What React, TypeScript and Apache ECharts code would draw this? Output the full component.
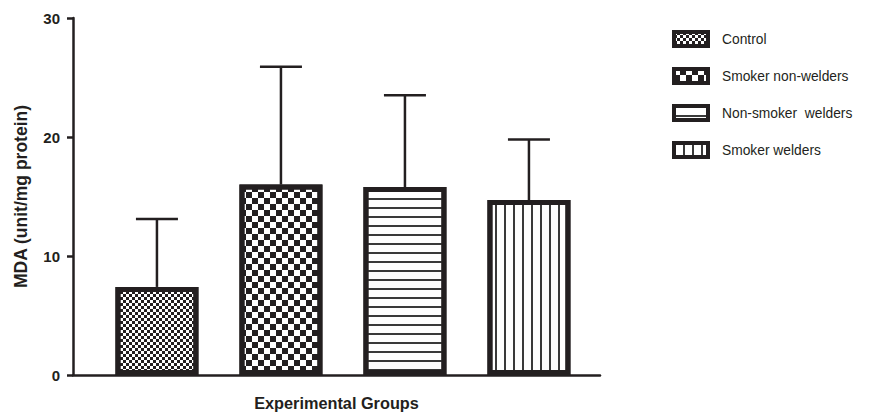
import React, { useEffect, useRef } from "react";
import * as echarts from "echarts";

const groups = ["Control", "Smoker non-welders", "Non-smoker  welders", "Smoker welders"];
const means = [7.4, 16.0, 15.8, 14.7];
const sds = [5.7, 9.9, 7.7, 5.1];
const yTicks = [0, 10, 20, 30];

const INK = "#231f20";
const FONT = "'Liberation Sans', Arial, Helvetica, sans-serif";

const decals: any[] = [
  {
    symbol: "rect",
    symbolSize: 1,
    symbolKeepAspect: false,
    color: INK,
    backgroundColor: "#ffffff",
    dashArrayX: [[3, 3], [0, 3, 3, 0]],
    dashArrayY: [3, 0],
    rotation: 0,
  },
  {
    symbol: "rect",
    symbolSize: 1,
    symbolKeepAspect: false,
    color: INK,
    backgroundColor: "#ffffff",
    dashArrayX: [[6, 6], [0, 6, 6, 0]],
    dashArrayY: [6, 0],
    rotation: 0,
  },
  {
    symbol: "rect",
    symbolSize: 1,
    symbolKeepAspect: false,
    color: "#3a3a3a",
    backgroundColor: "#ffffff",
    dashArrayX: [20, 0],
    dashArrayY: [1.5, 6.5],
    rotation: 0,
  },
  {
    symbol: "rect",
    symbolSize: 1,
    symbolKeepAspect: false,
    color: "#3a3a3a",
    backgroundColor: "#ffffff",
    dashArrayX: [1.5, 6.5],
    dashArrayY: [20, 0],
    rotation: 0,
  },
];

export default function App() {
  const ref = useRef<HTMLDivElement>(null);

  useEffect(() => {
    if (!ref.current) return;
    const chart = echarts.init(ref.current, undefined, { renderer: "svg" });

    const barSeries = groups.map((g, i) => ({
      name: g,
      type: "bar",
      barWidth: 83,
      barGap: "-100%",
      data: [[i, means[i]]],
      itemStyle: {
        color: "#ffffff",
        borderColor: INK,
        borderWidth: 5,
        decal: decals[i],
      },
      z: 3,
    }));

    const errData = groups.map((_, i) => [i, means[i], means[i] + sds[i]]);

    const option: any = {
      animation: false,
      backgroundColor: "#ffffff",
      grid: { left: 73, right: 277, top: 18, bottom: 39, containLabel: false },
      legend: {
        orient: "vertical",
        left: 672,
        top: 30,
        itemWidth: 34,
        itemHeight: 14,
        itemGap: 19,
        icon: "rect",
        padding: 0,
        itemStyle: { borderWidth: 4, borderColor: INK },
        textStyle: { fontSize: 13.8, color: INK, fontFamily: FONT, padding: [0, 0, 0, 9] },
        data: groups,
      },
      xAxis: {
        type: "value",
        min: -0.677,
        max: 3.573,
        name: "Experimental Groups",
        nameLocation: "middle",
        nameGap: 20,
        nameTextStyle: { fontSize: 16.3, fontWeight: "bold", color: INK, fontFamily: FONT },
        axisLine: { show: true, onZero: false, lineStyle: { color: INK, width: 2.5 } },
        axisTick: { show: false },
        axisLabel: { show: false },
        splitLine: { show: false },
      },
      yAxis: {
        type: "value",
        min: yTicks[0],
        max: yTicks[yTicks.length - 1],
        interval: 10,
        name: "MDA (unit/mg protein)",
        nameLocation: "middle",
        nameGap: 43,
        nameTextStyle: { fontSize: 17.5, fontWeight: "bold", color: INK, fontFamily: FONT },
        axisLine: { show: true, onZero: false, lineStyle: { color: INK, width: 2.5 } },
        axisTick: { show: true, length: 6, lineStyle: { color: INK, width: 2.5 } },
        axisLabel: { fontSize: 15, fontWeight: "bold", color: INK, fontFamily: FONT, margin: 13 },
        splitLine: { show: false },
      },
      series: [
        ...barSeries,
        {
          type: "custom",
          name: "error",
          z: 2,
          data: errData,
          renderItem: (params: any, api: any) => {
            const x = api.value(0);
            const lo = api.coord([x, api.value(1)]);
            const hi = api.coord([x, api.value(2)]);
            const half = 21;
            const style = { stroke: INK, lineWidth: 2.5 };
            return {
              type: "group",
              children: [
                { type: "line", shape: { x1: lo[0], y1: lo[1], x2: hi[0], y2: hi[1] }, style },
                { type: "line", shape: { x1: hi[0] - half, y1: hi[1], x2: hi[0] + half, y2: hi[1] }, style },
              ],
            };
          },
        },
      ],
    };

    chart.setOption(option);
    return () => chart.dispose();
  }, []);

  return (
    <div
      ref={ref}
      style={{ position: "fixed", left: 0, top: 0, width: 877, height: 416, background: "#fff" }}
    />
  );
}
